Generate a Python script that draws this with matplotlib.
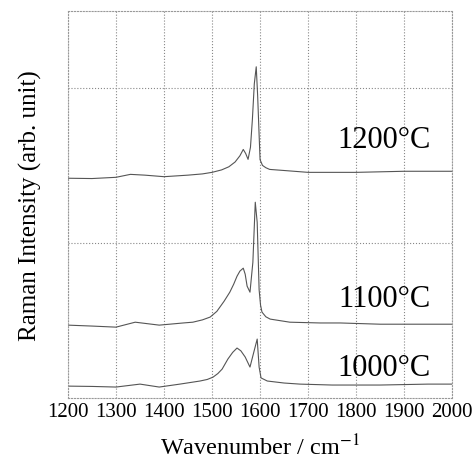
import matplotlib
matplotlib.use("Agg")
import matplotlib.pyplot as plt

plt.rcParams['font.family'] = ['Liberation Serif', 'DejaVu Serif']
plt.rcParams['mathtext.fontset'] = 'stix'

# Raman spectra (offset stacked, arb. units)
wn_1200 = [1200, 1250, 1300, 1330, 1360, 1400, 1450, 1480, 1500, 1520, 1535, 1548,
           1558, 1565, 1570, 1575, 1580, 1584, 1588, 1592, 1595, 1598, 1600, 1605,
           1612, 1620, 1650, 1700, 1800, 1900, 2000]
int_1200 = [1.42, 1.418, 1.426, 1.445, 1.44, 1.43, 1.44, 1.448, 1.458, 1.474, 1.494, 1.525,
            1.565, 1.606, 1.58, 1.542, 1.62, 1.80, 2.03, 2.14, 1.95, 1.70, 1.54, 1.503,
            1.488, 1.477, 1.47, 1.458, 1.458, 1.465, 1.465]

wn_1100 = [1200, 1250, 1300, 1340, 1390, 1440, 1460, 1480, 1496, 1510, 1525, 1537,
           1545, 1552, 1558, 1565, 1569, 1573, 1579, 1585, 1590, 1594, 1598, 1601,
           1604, 1612, 1621, 1662, 1725, 1767, 1850, 1950, 2000]
int_1100 = [0.471, 0.465, 0.458, 0.49, 0.471, 0.485, 0.49, 0.505, 0.523, 0.56, 0.625,
            0.684, 0.735, 0.787, 0.82, 0.839, 0.80, 0.723, 0.684, 0.877, 1.265, 1.135,
            0.70, 0.60, 0.555, 0.525, 0.51, 0.49, 0.485, 0.485, 0.477, 0.477, 0.477]

wn_1000 = [1200, 1250, 1300, 1350, 1390, 1433, 1475, 1490, 1502, 1512, 1521, 1533,
           1543, 1552, 1560, 1569, 1579, 1587, 1594, 1598, 1602, 1615, 1650, 1683,
           1750, 1850, 1950, 2000]
int_1000 = [0.077, 0.075, 0.071, 0.09, 0.071, 0.09, 0.11, 0.12, 0.135, 0.158, 0.187,
            0.252, 0.295, 0.323, 0.305, 0.265, 0.20, 0.297, 0.381, 0.20, 0.13, 0.11,
            0.097, 0.09, 0.084, 0.084, 0.09, 0.09]

labels = ['1200°C', '1100°C', '1000°C']
label_y = [1.67, 0.64, 0.20]
xticks = [1200, 1300, 1400, 1500, 1600, 1700, 1800, 1900, 2000]

fig = plt.figure(figsize=(4.72, 4.64), dpi=100)
ax = fig.add_axes([0.144, 0.140, 0.814, 0.834])

for wn, inten in [(wn_1200, int_1200), (wn_1100, int_1100), (wn_1000, int_1000)]:
    ax.plot(wn, inten, color='#555555', lw=0.8)

for txt, yy in zip(labels, label_y):
    ax.text(1955, yy, txt, ha='right', va='center', fontsize=22)

ax.set_xlim(1200, 2000)
ax.set_ylim(0, 2.5)
ax.set_xticks(xticks)
ax.set_yticks([1, 2])
ax.set_yticklabels([])
ax.tick_params(length=0, labelsize=15, pad=3)
ax.grid(True, color='#888888', linestyle=':', lw=0.8)
for s in ax.spines.values():
    s.set_color('#999999')
    s.set_linewidth(0.8)
    s.set_linestyle(':')

ax.set_xlabel('Wavenumber / cm$^{-1}$', fontsize=17.5, labelpad=9)
ax.set_ylabel('Raman Intensity (arb. unit)', fontsize=18, labelpad=16)

fig.savefig('out.png', dpi=100)
